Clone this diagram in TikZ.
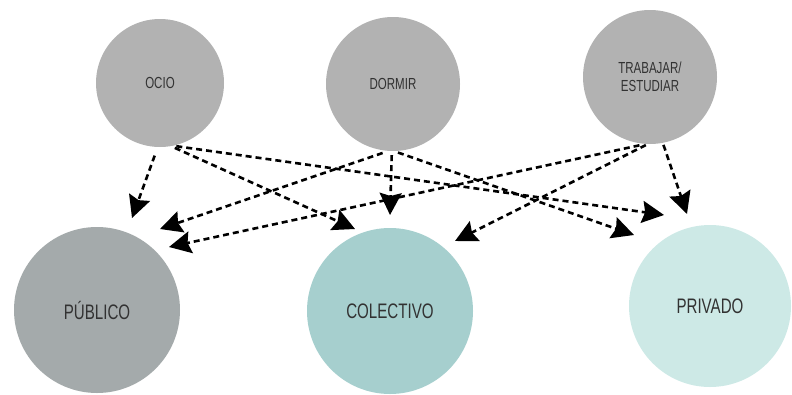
\documentclass[tikz,border=0pt]{standalone}
\usepackage{fontspec}
\setmainfont{Liberation Sans}[FakeStretch=0.72]
\usetikzlibrary{arrows.meta}
\definecolor{ActGray}{RGB}{178,178,178}
\definecolor{PublicoColor}{RGB}{164,170,171}
\definecolor{ColectivoColor}{RGB}{166,207,206}
\definecolor{PrivadoColor}{RGB}{205,233,230}
\definecolor{LabelColor}{RGB}{50,50,50}

\begin{document}
\begin{tikzpicture}[x=1pt,y=-1pt,act/.style={circle,fill=ActGray,minimum size=134pt,inner sep=0pt,align=center,text=LabelColor,font=\fontsize{16}{18}\selectfont},space/.style={circle,fill=#1,minimum size=166pt,inner sep=0pt,text=LabelColor,font=\fontsize{21}{24}\selectfont},link/.style={line width=2.6pt,dash pattern=on 6pt off 4pt,-{Stealth[length=22pt,width=22pt,inset=3pt]}}]
\useasboundingbox (0,0) rectangle (792,394);
% actividades
\node[act,minimum size=128pt](ocio) at(160,83) {OCIO};
\node[act](dormir) at(393,84) {DORMIR};
\node[act](trabajar) at(650,77) {TRABAJAR/\\ESTUDIAR};
% espacios
\node[space=PublicoColor](publico) at(97,310) {PÚBLICO};
\node[space=ColectivoColor](colectivo) at(390,311) {COLECTIVO};
\node[space=PrivadoColor,minimum size=162pt](privado) at(710,306) {PRIVADO};
% puntas
\coordinate (pub-a) at (132,218);
\coordinate (pub-b) at (160,229);
\coordinate (pub-c) at (169,247);
\coordinate (col-a) at (355,229);
\coordinate (col-b) at (390,215);
\coordinate (col-c) at (455,241);
\coordinate (pri-a) at (664,215);
\coordinate (pri-b) at (634,235);
\coordinate (pri-c) at (687,214);
\foreach \from/\ang/\cut/\tip in %
{ocio/-92/9pt/pub-a,dormir/-94/6pt/pub-b,trabajar/-94/6pt/pub-c,
 ocio/-80/4pt/col-a,dormir/-91/4pt/col-b,trabajar/-92/2pt/col-c,
 ocio/-78/3pt/pri-a,dormir/-89/4pt/pri-b,trabajar/-79/2pt/pri-c} {
   \draw[link,shorten <=\cut] (\from.\ang) -- (\tip);
}
\end{tikzpicture}
\end{document}
